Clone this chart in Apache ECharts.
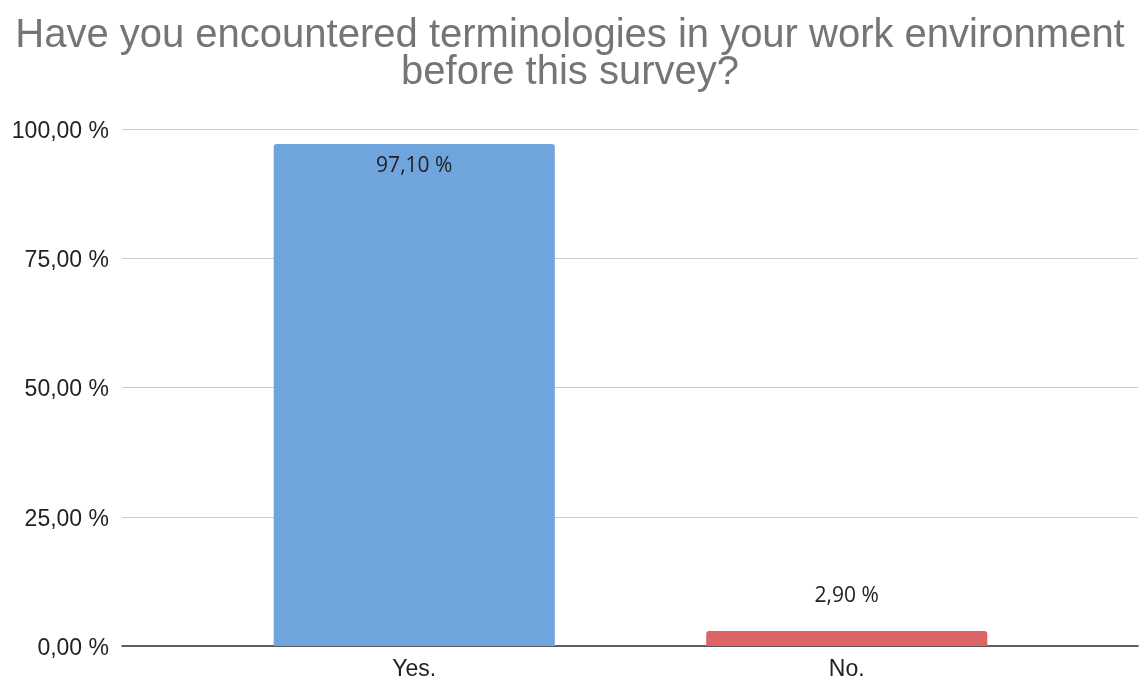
<!DOCTYPE html>
<html>
<head>
<meta charset="utf-8">
<script src="https://cdn.jsdelivr.net/npm/echarts@6/dist/echarts.min.js"></script>
<style>
html, body { margin: 0; padding: 0; background: #fff; }
#chart { width: 1140px; height: 681px; }
</style>
</head>
<body>
<div id="chart"></div>
<script>
// data
var categories = ['Yes.', 'No.'];
var values = [97.1, 2.9];
var barColors = ['#6fa4dc', '#dd6466'];
var yTicks = [0, 25, 50, 75, 100];

function pct(v) {
    return v.toFixed(2).replace('.', ',') + ' %';
}

var chart = echarts.init(document.getElementById('chart'));

var seriesData = [];
for (var i = 0; i < values.length; i++) {
    var item = {
        value: values[i],
        itemStyle: { color: barColors[i] }
    };
    // tall bar keeps its label inside, short one above
    if (values[i] > 50) {
        item.label = { position: 'insideTop', distance: 12 };
    } else {
        item.label = { position: 'top', distance: 24 };
    }
    seriesData.push(item);
}

var labelFont = '"Liberation Sans", Arial, sans-serif';

var option = {
    animation: false,
    backgroundColor: '#fff',
    title: {
        text: 'Have you encountered terminologies in your work environment\nbefore this survey?',
        left: 'center',
        top: 12,
        textStyle: {
            fontFamily: '"Liberation Sans Narrow", "Liberation Sans", sans-serif',
            fontWeight: 'normal',
            fontSize: 40,
            lineHeight: 37,
            color: '#757575'
        }
    },
    // grid 0: full width, carries gridlines + y labels + baseline
    // grid 1: inner band where the bars sit
    grid: [
        { left: 122, right: 2, top: 129, bottom: 35 },
        { left: 198, right: 77, top: 129, bottom: 35 }
    ],
    xAxis: [{
        type: 'category',
        gridIndex: 0,
        data: [''],
        axisLine: { lineStyle: { color: '#333', width: 1.5 } },
        axisTick: { show: false },
        axisLabel: { show: false }
    }, {
        type: 'category',
        gridIndex: 1,
        data: categories,
        axisLine: { show: false },
        axisTick: { show: false },
        axisLabel: {
            fontFamily: labelFont,
            fontSize: 23,
            color: '#222',
            margin: 12
        }
    }],
    yAxis: [{
        type: 'value',
        gridIndex: 0,
        min: yTicks[0],
        max: yTicks[yTicks.length - 1],
        interval: 25,
        axisLine: { show: false },
        axisTick: { show: false },
        splitLine: { lineStyle: { color: '#cccccc', width: 1 } },
        axisLabel: {
            fontFamily: labelFont,
            fontSize: 23,
            color: '#222',
            margin: 13,
            verticalAlign: 'top',
            padding: [-9, 0, 0, 0],
            formatter: pct
        }
    }, {
        type: 'value',
        gridIndex: 1,
        min: yTicks[0],
        max: yTicks[yTicks.length - 1],
        show: false,
        splitLine: { show: false }
    }],
    series: [{
        type: 'bar',
        xAxisIndex: 1,
        yAxisIndex: 1,
        barWidth: '65%',
        data: seriesData,
        itemStyle: { borderRadius: [3, 3, 0, 0] },
        label: {
            show: true,
            fontFamily: '"Open Sans", sans-serif',
            fontSize: 21,
            color: '#222',
            formatter: function (p) { return pct(p.value); }
        }
    }]
};

chart.setOption(option);
</script>
</body>
</html>
